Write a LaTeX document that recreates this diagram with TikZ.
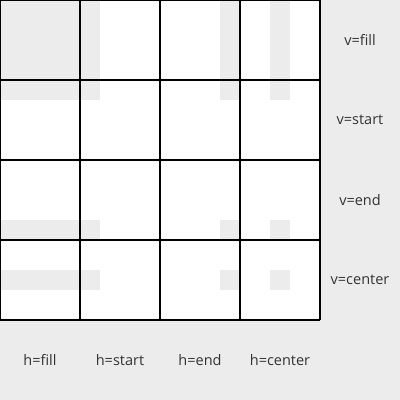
\documentclass[tikz,border=0pt]{standalone}
\usepackage{fontspec}
\setmainfont{Open Sans}
\usetikzlibrary{positioning}
\definecolor{bggray}{HTML}{ECECEC}
\definecolor{labelgray}{HTML}{333333}
\tikzset{
  gridline/.style={draw=black,line width=1.3pt},
  patch/.style={fill=bggray},
  lbl/.style={font=\fontsize{14.5}{16}\selectfont,text=labelgray,inner sep=0pt}
}
\begin{document}
\begin{tikzpicture}[x=1pt,y=-1pt]
\fill[bggray](0,0) rectangle (400,400);
\useasboundingbox (0,0) rectangle (400,400);
\fill[white](0,0) rectangle (320,320);
\foreach \xa/\xb in {0/100,220/240,270/290}
  \foreach \ya/\yb in {0/100,220/240,270/290}
    \fill[patch](\xa,\ya) rectangle (\xb,\yb);
\foreach \i in {0,80,160,240,320}{
  \draw[gridline](\i,0)--(\i,320);
  \draw[gridline](0,\i)--(320,\i);
}
\foreach \t [count=\k from 0] in {fill,start,end,center}{
  \node[lbl](v\t) at (360,40+80*\k){v=\t};
  \node[lbl](h\t) at (40+80*\k,360){h=\t};
}
\end{tikzpicture}
\end{document}
